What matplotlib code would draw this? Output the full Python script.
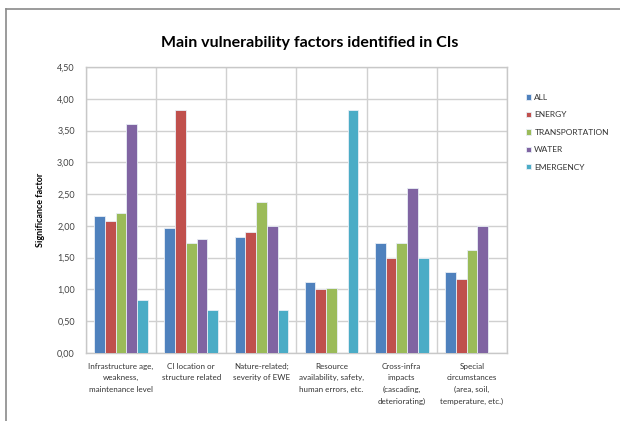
import numpy as np
import matplotlib
matplotlib.use("Agg")
import matplotlib.pyplot as plt
from matplotlib.lines import Line2D
from matplotlib.ticker import FuncFormatter, FixedLocator

plt.rcParams["font.family"] = ["Lato", "DejaVu Sans"]

categories = [
    "Infrastructure age,\nweakness,\nmaintenance level",
    "CI location or\nstructure related",
    "Nature-related;\nseverity of EWE",
    "Resource\navailability, safety,\nhuman errors, etc.",
    "Cross-infra\nimpacts\n(cascading,\ndeteriorating)",
    "Special\ncircumstances\n(area, soil,\ntemperature, etc.)",
]
series_names = ["ALL", "ENERGY", "TRANSPORTATION", "WATER", "EMERGENCY"]
all_vals = [2.16, 1.96, 1.83, 1.12, 1.73, 1.28]
energy_vals = [2.08, 3.83, 1.91, 1.00, 1.50, 1.16]
transport_vals = [2.20, 1.73, 2.38, 1.03, 1.73, 1.62]
water_vals = [3.60, 1.80, 2.00, np.nan, 2.60, 2.00]
emergency_vals = [0.84, 0.67, 0.67, 3.83, 1.50, np.nan]
colors = ["#4F81BD", "#C0504D", "#9BBB59", "#8064A2", "#4BACC6"]

fig = plt.figure(figsize=(6.2, 4.21), dpi=100)
ax = fig.add_axes([86 / 620, 1 - 353 / 421, 421 / 620, 286 / 421])

x = np.arange(len(categories))
width = 0.153
for k, (name, vals, c) in enumerate(zip(series_names,
                                        [all_vals, energy_vals, transport_vals, water_vals, emergency_vals],
                                        colors)):
    ax.bar(x + (k - 2) * width, vals, width, color=c, label=name,
           edgecolor="#e8eef6", linewidth=0.6, zorder=3)

ax.set_xlim(-0.5, len(categories) - 0.5)
ax.set_ylim(0, 4.5)
ax.set_yticks(np.arange(0, 4.51, 0.5))
ax.yaxis.set_major_formatter(FuncFormatter(lambda v, p: f"{v:.2f}".replace(".", ",")))
ax.set_xticks(x)
ax.set_xticklabels(categories, fontsize=5.8, color="#333333", linespacing=1.75, va="top")
ax.xaxis.set_minor_locator(FixedLocator(np.arange(-0.5, len(categories), 1.0)))
ax.tick_params(axis="x", which="both", length=0, pad=7)
ax.tick_params(axis="y", length=0, labelsize=6.5, labelcolor="#444444", pad=8)
ax.grid(axis="y", which="major", color="#d0d0d0", linewidth=1.0, zorder=0)
ax.grid(axis="x", which="minor", color="#d0d0d0", linewidth=1.0, zorder=0)
for s in ax.spines.values():
    s.set_color("#c8c8c8")
    s.set_linewidth(1.0)

ax.set_ylabel("Significance factor", fontsize=6.5, fontweight="bold", labelpad=9)
fig.text(0.5, 1 - 43 / 421, "Main vulnerability factors identified in CIs",
         ha="center", va="center", fontsize=11.5, fontweight="bold")

leg = ax.legend(loc="upper left", bbox_to_anchor=(526 / 620, 1 - 94 / 421),
                bbox_transform=fig.transFigure, frameon=False, fontsize=6,
                handlelength=0.6, handleheight=0.6, handletextpad=0.4,
                labelspacing=1.25, borderaxespad=0, borderpad=0)
for t in leg.get_texts():
    t.set_color("#333333")

# outer chart border
fig.add_artist(Line2D([6 / 620, 6 / 620], [0, 1 - 9 / 421], transform=fig.transFigure,
                      color="#8a8a8a", linewidth=1.2))
fig.add_artist(Line2D([6 / 620, 1], [1 - 9 / 421, 1 - 9 / 421], transform=fig.transFigure,
                      color="#8a8a8a", linewidth=1.2))

fig.savefig("out.png", dpi=100)
